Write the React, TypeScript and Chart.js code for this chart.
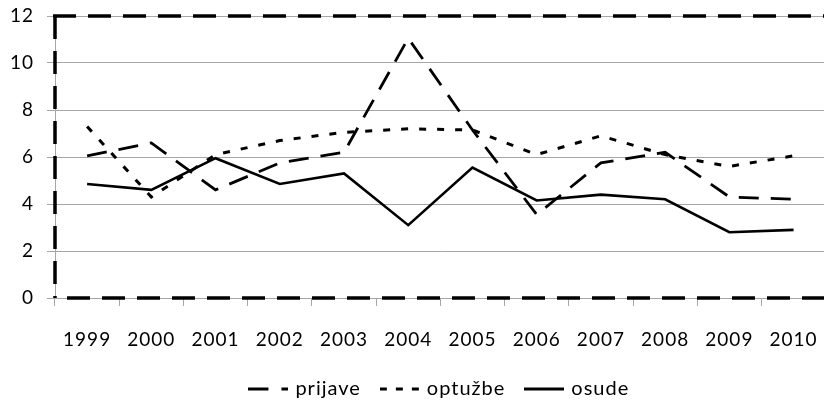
import React, { useEffect, useRef } from "react";
import { Chart, registerables } from "chart.js";

Chart.register(...registerables);

const years = ["1999", "2000", "2001", "2002", "2003", "2004", "2005", "2006", "2007", "2008", "2009", "2010"];
const prijave = [6.05, 6.6, 4.6, 5.75, 6.2, 11.05, 7.15, 3.55, 5.75, 6.2, 4.3, 4.2];
const optuzbe = [7.3, 4.3, 6.1, 6.7, 7.05, 7.2, 7.15, 6.1, 6.9, 6.1, 5.6, 6.05];
const osude = [4.85, 4.6, 5.95, 4.85, 5.3, 3.1, 5.55, 4.15, 4.4, 4.2, 2.8, 2.9];
const yMin = 0;
const yMax = 12;
const yStep = 2;

const FONT = "Lato";
const GRID = "#a6a6a6";

const dashes: number[][] = [[20, 12], [7, 11], []];
const legendDashes: number[][] = [[20, 13], [7, 9], []];

function makeSample(dash: number[]) {
  const c = document.createElement("canvas");
  c.width = 40;
  c.height = 6;
  const g = c.getContext("2d")!;
  g.strokeStyle = "#000";
  g.lineWidth = 3;
  g.setLineDash(dash);
  g.beginPath();
  g.moveTo(0, 3);
  g.lineTo(40, 3);
  g.stroke();
  return c;
}

const spacingPlugin = {
  id: "letterSpacing",
  beforeUpdate(chart: any) {
    chart.ctx.letterSpacing = "1px";
  },
  beforeDraw(chart: any) {
    chart.ctx.letterSpacing = "1px";
  },
};

const framePlugin = {
  id: "dashedFrame",
  beforeDatasetsDraw(chart: any) {
    const { ctx, chartArea } = chart;
    const { left, right, top, bottom } = chartArea;
    ctx.save();
    ctx.strokeStyle = "#000";
    ctx.lineWidth = 3.5;
    ctx.setLineDash([23, 12]);
    ctx.lineDashOffset = 0;
    ctx.beginPath();
    ctx.moveTo(left - 2, top);
    ctx.lineTo(right, top);
    ctx.stroke();
    ctx.beginPath();
    ctx.moveTo(left, top);
    ctx.lineTo(left, bottom);
    ctx.stroke();
    ctx.lineDashOffset = 23;
    ctx.beginPath();
    ctx.moveTo(left, bottom);
    ctx.lineTo(right, bottom);
    ctx.stroke();
    ctx.restore();
  },
};

export default function App() {
  const ref = useRef<HTMLCanvasElement | null>(null);

  useEffect(() => {
    if (!ref.current) return;
    const samples = legendDashes.map(makeSample);
    const chart = new Chart(ref.current, {
      type: "line",
      data: {
        labels: years,
        datasets: [
          {
            label: "prijave",
            data: prijave,
            borderColor: "#000",
            backgroundColor: "#000",
            borderWidth: 2.8,
            borderDash: dashes[0],
            pointRadius: 0,
            tension: 0,
            fill: false,
          },
          {
            label: "optužbe",
            data: optuzbe,
            borderColor: "#000",
            backgroundColor: "#000",
            borderWidth: 3,
            borderDash: dashes[1],
            pointRadius: 0,
            tension: 0,
            fill: false,
          },
          {
            label: "osude",
            data: osude,
            borderColor: "#000",
            backgroundColor: "#000",
            borderWidth: 2.6,
            borderDash: dashes[2],
            pointRadius: 0,
            tension: 0,
            fill: false,
          },
        ],
      },
      options: {
        responsive: false,
        animation: false,
        layout: { padding: { left: 0, right: 9, top: 16, bottom: 0 } },
        plugins: {
          legend: {
            position: "bottom",
            fullSize: false,
            labels: {
              usePointStyle: true,
              pointStyleWidth: 34,
              color: "#000",
              font: { family: FONT, size: 20 },
              padding: 22,
              generateLabels: (c: any) =>
                (Chart.defaults.plugins.legend.labels.generateLabels as any)(c).map(
                  (l: any, i: number) => ({ ...l, pointStyle: samples[i] })
                ),
            },
          },
          tooltip: { enabled: false },
        },
        scales: {
          x: {
            offset: true,
            grid: { drawOnChartArea: false, offset: true, color: GRID, tickLength: 8 },
            border: { color: GRID },
            ticks: {
              color: "#000",
              font: { family: FONT, size: 19 },
              padding: 22,
              maxRotation: 0,
              autoSkip: false,
            },
            afterFit: (s: any) => {
              s.height = 59;
            },
          },
          y: {
            min: yMin,
            max: yMax,
            ticks: {
              stepSize: yStep,
              color: "#000",
              font: { family: FONT, size: 19 },
              padding: 13,
            },
            grid: { color: GRID, tickLength: 8 },
            border: { color: GRID },
            afterFit: (s: any) => {
              s.width = 55;
              s.paddingTop = 0;
              s.paddingBottom = 0;
            },
          },
        },
      },
      plugins: [spacingPlugin, framePlugin],
    });
    return () => chart.destroy();
  }, []);

  return (
    <div
      style={{
        position: "fixed",
        left: 0,
        top: 0,
        width: 824,
        height: 405,
        overflow: "hidden",
        background: "#fff",
      }}
    >
      <canvas ref={ref} width={840} height={409} style={{ display: "block" }} />
    </div>
  );
}
